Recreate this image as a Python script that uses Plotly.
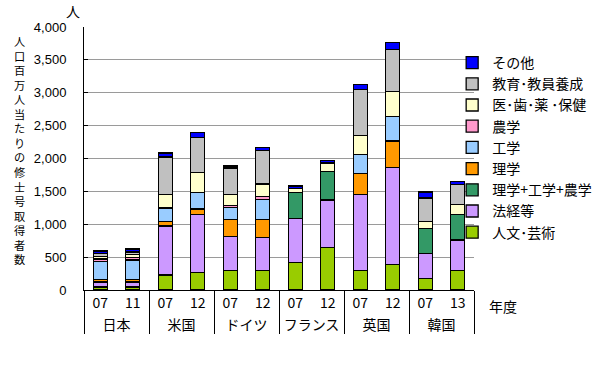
import plotly.graph_objects as go

countries = ["日本", "日本", "米国", "米国", "ドイツ", "ドイツ", "フランス", "フランス", "英国", "英国", "韓国", "韓国"]
years = ["07", "11", "07", "12", "07", "12", "07", "12", "07", "12", "07", "13"]

humanities = [45, 45, 230, 270, 295, 295, 415, 645, 295, 390, 175, 295]
law = [75, 75, 745, 880, 515, 505, 670, 725, 1160, 1470, 380, 465]
science = [40, 45, 65, 80, 265, 275, None, None, 320, 405, None, None]
engineering = [270, 290, 205, 255, 175, 305, None, None, 290, 370, None, None]
agriculture = [40, 40, None, None, 30, 40, None, None, None, None, None, None]
sci_eng_agr = [None, None, None, None, None, None, 395, 430, None, None, 380, 390]
medical = [40, 45, 210, 305, 170, 190, 65, 130, 285, 380, 110, 150]
education = [40, 40, 570, 525, 405, 510, None, None, 695, 645, 355, 305]
other = [45, 45, 60, 80, 30, 50, 35, 40, 85, 105, 90, 40]

series = [
    ("人文･芸術", humanities, "#99CC00"),
    ("法経等", law, "#CC99FF"),
    ("理学+工学+農学", sci_eng_agr, "#339966"),
    ("理学", science, "#FF9900"),
    ("工学", engineering, "#99CCFF"),
    ("農学", agriculture, "#FF99CC"),
    ("医･歯･薬 ･保健", medical, "#FFFFCC"),
    ("教育･教員養成", education, "#C0C0C0"),
    ("その他", other, "#0000FF"),
]

FONT = "Liberation Sans, Noto Sans CJK JP, sans-serif"
CJK = "Noto Sans CJK JP, sans-serif"

fig = go.Figure()
for name, vals, col in series:
    fig.add_trace(go.Bar(
        x=[countries, years], y=vals, name=name,
        marker=dict(color=col, line=dict(color="black", width=1.3)),
    ))

W, H = 600, 370
L, R, T, B = 84, 126, 27, 80

fig.update_layout(
    width=W, height=H,
    margin=dict(l=L, r=R, t=T, b=B, autoexpand=False),
    barmode="stack", bargap=0.57,
    plot_bgcolor="white", paper_bgcolor="white",
    font=dict(family=FONT, size=12, color="black"),
    legend=dict(
        traceorder="reversed", x=0.944, y=0.924, xanchor="left", yanchor="top",
        font=dict(family=CJK, size=14), bgcolor="rgba(0,0,0,0)",
        itemwidth=30,
    ),
    xaxis=dict(
        type="multicategory", showline=True, linecolor="black", linewidth=1,
        showdividers=True, dividercolor="black", dividerwidth=1,
        tickfont=dict(family=CJK, size=14), ticks="outside", ticklen=8,
        tickcolor="rgba(0,0,0,0)",
    ),
    yaxis=dict(
        range=[0, 4000], dtick=500, tickformat=",", showgrid=True,
        gridcolor="#9A9A9A", gridwidth=1, showline=True, linecolor="black",
        linewidth=1, ticks="inside", ticklen=4, tickcolor="black",
        tickfont=dict(family=FONT, size=13), zeroline=False,
        ticklabelstandoff=14,
    ),
)

def px(xp, yp):
    return (xp - L) / (W - L - R), (H - B - yp) / (H - T - B)

title = "人口百万人当たりの修士号取得者数"
ax, ay = px(19, 150)
fig.add_annotation(x=ax, y=ay, xref="paper", yref="paper",
                   text="<br>".join(title),
                   showarrow=False, font=dict(family=CJK, size=11.2),
                   xanchor="center", yanchor="middle")

ax, ay = px(73, 11)
fig.add_annotation(x=ax, y=ay, xref="paper", yref="paper", text="人",
                   showarrow=False, font=dict(family=CJK, size=14),
                   xanchor="center", yanchor="middle")
ax, ay = px(503, 306)
fig.add_annotation(x=ax, y=ay, xref="paper", yref="paper", text="年度",
                   showarrow=False, font=dict(family=CJK, size=14),
                   xanchor="center", yanchor="middle")

fig.write_html("out.html", config={"displayModeBar": False},
               post_script="document.body.style.margin='0px';")
